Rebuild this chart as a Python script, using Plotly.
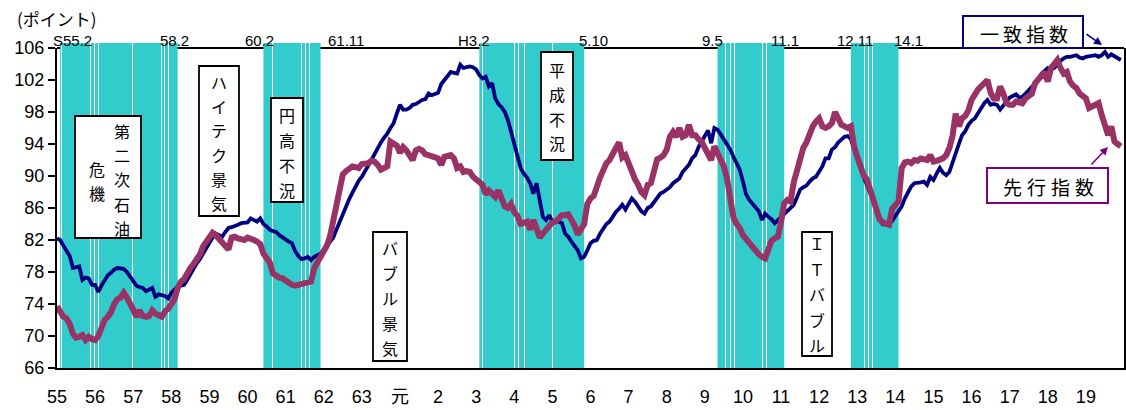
import numpy as np
import pandas as pd
import plotly.graph_objects as go

# ---- monthly composite indices, Jan 1980 - Dec 2007 ----
months = pd.date_range("1980-01-01", periods=336, freq="MS")

coincident = [
    82.2, 82.0, 81.3, 80.6, 80.0, 78.5, 78.6, 78.7, 77.0, 77.3, 77.2, 76.4,
    76.4, 75.5, 76.3, 77.0, 77.6, 77.9, 78.3, 78.5, 78.5, 78.4, 78.0, 77.4,
    76.8, 76.3, 76.1, 76.0, 75.6, 75.8, 76.0, 74.9, 75.2, 75.1, 75.0, 74.7,
    75.4, 75.8, 76.2, 76.3, 76.4, 77.0, 77.8, 78.4, 79.1, 79.6, 80.3, 81.0,
    81.8, 82.3, 82.8, 82.6, 82.4, 83.0, 83.5, 83.6, 83.7, 83.9, 84.1, 84.1,
    84.2, 84.7, 84.5, 84.3, 84.7, 84.0, 83.7, 83.3, 83.1, 83.0, 82.6, 82.3,
    82.0, 81.8, 81.6, 80.6, 80.0, 79.6, 79.7, 79.9, 79.5, 79.9, 80.1, 80.3,
    80.8, 81.2, 81.8, 82.3, 83.3, 84.3, 85.1, 86.2, 87.1, 87.9, 88.7, 89.4,
    89.9, 90.7, 91.3, 92.0, 92.8, 93.6, 94.2, 94.8, 95.3, 96.0, 96.6, 97.8,
    98.9, 98.3, 98.3, 98.5, 98.9, 99.0, 99.3, 99.5, 99.6, 100.3, 100.1, 100.2,
    100.4, 101.5, 102.0, 102.6, 103.0, 102.9, 102.8, 103.9, 103.5, 103.6, 103.7, 103.6,
    103.3, 102.6, 102.2, 102.4, 101.2, 101.6, 99.7, 99.0, 98.6, 98.0, 97.0, 95.5,
    94.0, 92.5, 91.0, 90.3, 89.8, 89.1, 87.8, 89.1, 87.0, 84.9, 84.5, 85.1,
    84.3, 84.4, 84.3, 84.1, 82.8, 82.4, 81.8, 81.2, 80.7, 79.7, 79.9, 80.7,
    81.6, 81.9, 82.0, 82.8, 83.5, 84.0, 84.3, 85.0, 85.5, 85.9, 86.4, 85.8,
    86.6, 87.2, 86.8, 86.2, 85.6, 85.3, 86.0, 86.2, 86.8, 87.3, 87.8, 88.0,
    88.3, 88.6, 89.1, 89.4, 89.7, 90.5, 91.0, 91.4, 92.2, 92.6, 93.6, 94.4,
    95.0, 95.7, 94.1, 96.0, 95.8, 95.2, 94.6, 94.0, 93.3, 92.4, 91.6, 90.8,
    89.3, 87.7, 87.0, 86.5, 86.0, 85.6, 84.5, 85.3, 84.9, 84.6, 84.1, 84.5,
    84.8, 85.3, 85.6, 86.0, 86.4, 87.3, 88.3, 88.6, 88.8, 89.3, 89.7, 89.9,
    90.5, 91.2, 92.2, 92.2, 93.3, 93.6, 94.2, 94.6, 94.9, 95.0, 94.6, 93.4,
    92.2, 90.8, 89.9, 88.9, 87.8, 87.0, 86.0, 84.6, 84.0, 83.9, 84.0, 84.4,
    85.0, 85.6, 86.2, 87.2, 88.0, 88.7, 89.1, 89.1, 89.2, 89.3, 88.9, 89.9,
    89.5, 90.3, 91.0, 90.4, 90.1, 90.5, 91.8, 92.8, 94.0, 95.1, 95.6, 96.4,
    96.9, 97.2, 97.9, 98.6, 99.1, 99.5, 98.9, 99.0, 98.9, 98.3, 98.8, 99.3,
    99.8, 100.0, 100.2, 99.8, 99.9, 100.3, 100.7, 101.1, 101.6, 102.0, 102.8, 103.2,
    103.5, 103.3, 103.5, 103.9, 104.4, 104.7, 104.9, 104.9, 105.0, 105.1, 104.8, 104.7,
    104.9, 105.0, 105.1, 105.1, 104.9, 105.1, 105.5, 104.9, 105.2, 105.0, 104.7, 104.5,
]

leading = [
    73.7, 73.0, 72.4, 72.2, 71.5, 70.3, 69.8, 69.9, 70.1, 69.5, 69.9, 69.6,
    69.5, 70.0, 71.2, 72.0, 72.4, 73.0, 74.0, 74.6, 74.8, 75.4, 74.8, 74.2,
    73.3, 72.4, 73.2, 72.5, 72.4, 72.5, 73.2, 72.8, 72.6, 72.4, 73.1, 73.4,
    74.0, 74.6, 76.0, 76.8, 77.1, 78.0, 78.5, 79.0, 79.5, 80.2, 81.2, 81.8,
    82.1, 82.9, 82.6, 82.2, 81.8, 81.4, 80.8, 82.3, 82.4, 82.2, 82.1, 82.0,
    82.3, 82.2, 82.0, 81.8, 81.5, 80.3, 79.6, 79.2, 77.8, 77.5, 77.3, 77.2,
    76.9, 76.7, 76.4, 76.3, 76.4, 76.6, 76.7, 76.8, 76.8, 78.5, 79.2, 79.8,
    80.6, 81.3, 82.5, 84.5, 86.5, 88.5, 90.2, 90.6, 90.9, 91.2, 91.1, 91.0,
    91.5, 91.6, 91.6, 91.9, 91.8, 91.4, 90.8, 91.0, 91.2, 94.3, 94.1, 93.8,
    92.9, 93.6, 93.2, 92.5, 92.0, 93.2, 93.4, 93.2, 92.7, 92.6, 92.4, 92.3,
    92.2, 91.4, 92.4, 92.5, 92.6, 92.2, 91.0, 91.2, 90.5, 90.6, 90.5, 89.9,
    89.6, 89.2, 88.9, 87.7, 88.2, 87.8, 87.4, 88.2, 87.0, 86.2, 86.0, 86.5,
    85.5, 85.0, 84.0, 84.2, 84.3, 83.3, 84.5, 83.5, 82.3, 82.8, 83.2, 83.6,
    84.2, 84.3, 84.8, 85.1, 85.1, 85.2, 84.5, 83.8, 82.7, 83.2, 84.0, 86.5,
    87.2, 87.5, 88.8, 89.8, 90.7, 91.6, 92.0, 92.6, 93.5, 94.2, 92.3, 92.6,
    91.5, 90.3, 89.6, 88.9, 88.0, 87.6, 88.9, 89.1, 91.0, 92.1, 92.3, 92.6,
    93.3, 94.9, 95.5, 94.9, 96.0, 94.9, 95.1, 96.4, 95.1, 95.1, 94.6, 94.3,
    93.5, 92.8, 92.0, 93.7, 92.9, 91.8, 91.2, 89.7, 87.3, 84.8, 84.0, 83.5,
    82.6, 82.1, 81.6, 81.3, 80.6, 80.2, 79.9, 79.7, 80.8, 81.9, 82.2, 82.4,
    84.3, 86.6, 87.0, 86.8, 89.2, 90.6, 92.4, 93.5, 94.2, 95.3, 96.2, 96.8,
    97.2, 96.2, 96.0, 96.2, 96.6, 98.0, 97.0, 96.4, 96.2, 96.0, 96.2, 93.7,
    92.4, 91.2, 90.1, 89.6, 88.3, 87.2, 86.0, 84.6, 84.2, 84.1, 83.9, 85.9,
    86.3, 86.8, 91.0, 91.7, 91.8, 91.6, 92.0, 91.9, 92.2, 92.1, 92.0, 92.6,
    91.8, 91.9, 92.0, 92.2, 92.6, 93.5, 95.0, 97.8, 96.2, 97.2, 97.5, 98.2,
    99.5, 100.3, 100.8, 101.2, 101.6, 102.0, 100.4, 99.7, 99.7, 101.2, 100.3, 99.1,
    98.9, 98.9, 99.3, 99.2, 99.1, 99.7, 100.0, 100.3, 101.6, 102.0, 102.6, 103.0,
    101.8, 103.5, 104.0, 104.5, 103.5, 102.8, 103.0, 101.8, 101.3, 101.0, 100.3, 100.0,
    99.7, 98.5, 98.7, 98.9, 99.1, 97.6, 96.6, 95.1, 96.2, 94.3, 94.0, 93.7,
]

# x-axis year labels (Showa 55 .. Heisei 19)
year_labels = ["55", "56", "57", "58", "59", "60", "61", "62", "63", "元"] + [str(i) for i in range(2, 20)]

# business-cycle contraction phases (peak month, trough month)
recessions = [("1980-02", "1983-02"), ("1985-06", "1986-11"), ("1991-02", "1993-10"),
              ("1997-05", "1999-01"), ("2000-11", "2002-01")]
turning_labels = [("S55.2", "58.2"), ("60.2", "61.11"), ("H3.2", "5.10"),
                  ("9.5", "11.1"), ("12.11", "14.1")]

# era names, written top-to-bottom
episodes = ["ハイテク景気", "円高不況", "バブル景気", "平成不況", "ＩＴバブル"]
oil_crisis = ["第二次石油", "危機"]

# ---- geometry helpers (plot area in pixels) ----
W, H = 1126, 410
PL, PR, PT, PB = 57, 1124, 48, 368
X0, X1 = 1980, 2008


def fx(px):
    return (px - PL) / (PR - PL)


def fy(py):
    return (PB - py) / (PB - PT)


def dec(ym):
    y, m = ym.split("-")
    return int(y) + (int(m) - 1) / 12


def snap(xv):
    # put a 1px line on a pixel centre so it stays crisp
    px = PL + (xv - X0) * (PR - PL) / (X1 - X0)
    px = np.floor(px) + 0.5
    return X0 + (px - PL) * (X1 - X0) / (PR - PL)


t = np.array(months.year + (months.month - 1) / 12, dtype=float)

JP = "Noto Sans CJK JP"
LAT = "Liberation Sans, Arial, Noto Sans CJK JP"

fig = go.Figure()

shapes = []
# top frame line (drawn under the shading bands)
shapes.append(dict(type="line", xref="paper", yref="paper", x0=0, x1=1, y0=1, y1=1,
                   line=dict(color="black", width=2), layer="below"))

band_top = fy(43)
for pk, tr in recessions:
    shapes.append(dict(type="rect", xref="x", yref="paper", x0=dec(pk), x1=dec(tr) + 1 / 12,
                       y0=0, y1=band_top, fillcolor="#33CCCC", line=dict(width=0), layer="below"))

# thin white seams inside the shaded bands
seams = [1980.123, 1980.885, 1980.979, 1981.084, 1981.987, 1982.730, 1982.816, 1982.921,
         1985.661, 1986.404, 1986.509, 1986.614,
         1991.173, 1992.003, 1992.118, 1992.257, 1993.010,
         1997.533, 1997.664, 1997.777, 1998.522, 1998.627,
         2001.181, 2001.294, 2001.409]
for s in seams:
    xs = snap(s)
    shapes.append(dict(type="line", xref="x", yref="paper", x0=xs, x1=xs, y0=0, y1=band_top,
                       line=dict(color="white", width=1), layer="below"))

fig.add_trace(go.Scatter(x=t, y=coincident, mode="lines", name="一致指数",
                         line=dict(color="#000080", width=3.8)))
fig.add_trace(go.Scatter(x=t, y=leading, mode="lines", name="先行指数",
                         line=dict(color="#993366", width=6)))

annotations = []

# turning-point labels above the frame
label_shift = [(12, -3), (-4, 25), (-5, 9), (-5, 1), (4, 10)]
for (pk, tr), (lp, lt), (sp, st) in zip(recessions, turning_labels, label_shift):
    for xv, txt, sh in ((dec(pk), lp, sp), (dec(tr) + 1 / 12, lt, st)):
        annotations.append(dict(x=xv, xref="x", y=fy(41), yref="paper", text=txt, showarrow=False,
                                xshift=sh, xanchor="center", yanchor="middle",
                                font=dict(family=LAT, size=15, color="black")))

# unit label
annotations.append(dict(x=fx(57), y=fy(18), xref="paper", yref="paper", text="(ポイント)",
                        showarrow=False, xanchor="center", yanchor="middle",
                        font=dict(family=JP, size=17, color="black")))


def box(x0, x1, y0, y1, color="black", width=1.8):
    shapes.append(dict(type="rect", xref="paper", yref="paper", x0=fx(x0), x1=fx(x1),
                       y0=fy(y1), y1=fy(y0), line=dict(color=color, width=width),
                       fillcolor="white", layer="above"))


def column(text, cx, cy0, step, size=16):
    for i, ch in enumerate(text):
        annotations.append(dict(x=fx(cx), y=fy(cy0 + i * step), xref="paper", yref="paper",
                                text=ch, showarrow=False, xanchor="center", yanchor="middle",
                                font=dict(family=JP, size=size, color="black")))


# 第二次石油危機
box(75, 141, 116, 238)
column(oil_crisis[0], 122, 131, 24.2)
column(oil_crisis[1], 97, 169, 24.2)

episode_boxes = [(199, 239, 66, 216, 82, 24.2), (271, 303, 98, 202, 115, 25),
                 (373, 407, 232, 361, 248, 25), (541, 573, 52, 160, 70, 24.3),
                 (802, 832, 232, 356, 243, 25.5)]
for txt, (x0, x1, y0, y1, c0, st) in zip(episodes, episode_boxes):
    box(x0, x1, y0, y1)
    column(txt, (x0 + x1) / 2, c0, st)

# series name call-outs
series_tags = [("一致指数", "#000080", (963, 1083, 16, 48), 33, 989, 23.3),
               ("先行指数", "#800080", (987, 1108, 168, 203), 186, 1012, 24)]
for txt, col, (x0, x1, y0, y1), cy, cx0, st in series_tags:
    box(x0, x1, y0, y1, color=col, width=2)
    for i, ch in enumerate(txt):
        annotations.append(dict(x=fx(cx0 + i * st), y=fy(cy), xref="paper", yref="paper",
                                text=ch, showarrow=False, xanchor="center", yanchor="middle",
                                font=dict(family=JP, size=19, color="black")))

# arrows from the call-outs to their lines
annotations.append(dict(x=fx(1102), y=fy(45), xref="paper", yref="paper", text="",
                        showarrow=True, ax=-17, ay=-12, arrowhead=2, arrowsize=1,
                        arrowwidth=1.6, arrowcolor="#000080", standoff=0))
annotations.append(dict(x=fx(1108), y=fy(147), xref="paper", yref="paper", text="",
                        showarrow=True, ax=-18, ay=19, arrowhead=2, arrowsize=1,
                        arrowwidth=1.6, arrowcolor="#800080", standoff=0))

fig.update_layout(
    width=W, height=H,
    autosize=False,
    margin=dict(l=PL, r=W - PR, t=PT, b=H - PB, pad=0, autoexpand=False),
    paper_bgcolor="white", plot_bgcolor="white",
    showlegend=False,
    shapes=shapes,
    annotations=annotations,
    xaxis=dict(range=[X0, X1], tickmode="array", tickvals=list(range(1980, 2008)),
               ticktext=year_labels, showgrid=False, zeroline=False, showline=True,
               linecolor="black", linewidth=2, ticks="", ticklabelstandoff=11,
               automargin=False,
               tickfont=dict(family=LAT, size=18, color="black")),
    yaxis=dict(range=[66, 106], tick0=66, dtick=4, showgrid=False, zeroline=False,
               showline=True, linecolor="black", linewidth=2, mirror=True,
               ticks="outside", ticklen=7, tickwidth=1.5, tickcolor="black",
               automargin=False,
               tickfont=dict(family=LAT, size=18, color="black")),
)

fig.write_html("out.html", config={"responsive": False})
